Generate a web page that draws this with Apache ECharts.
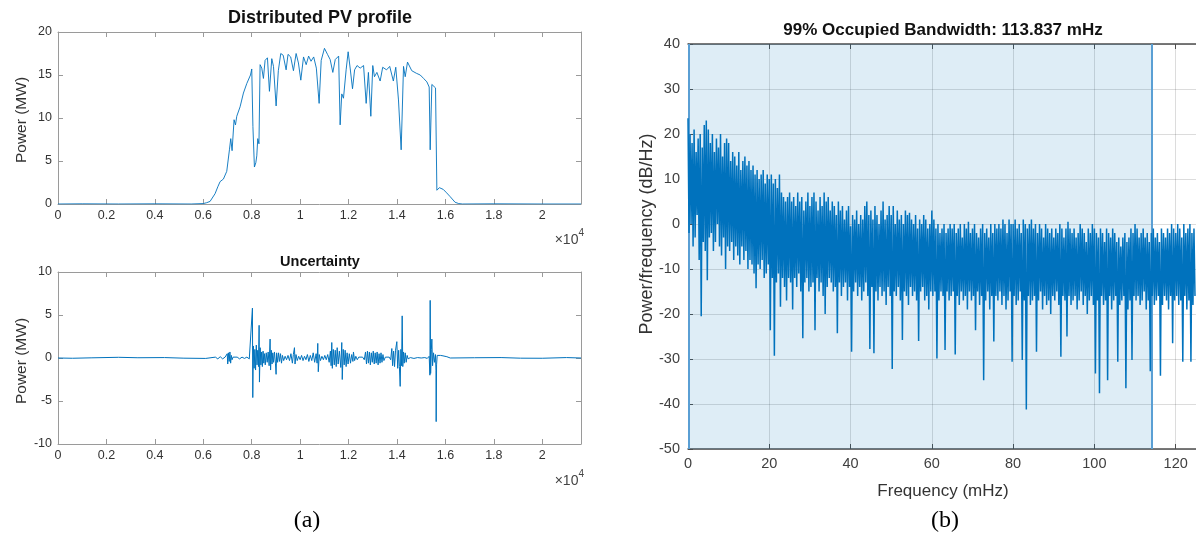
<!DOCTYPE html>
<html><head><meta charset="utf-8">
<script src="https://cdn.jsdelivr.net/npm/echarts@6/dist/echarts.min.js"></script>
<style>html,body{margin:0;padding:0;background:#fff}#c{width:1196px;height:539px}</style>
</head><body><div id="c"></div>
<script>
// ---- Panel (a) top: Distributed PV profile (time index, MW) ----
const pvTime = [0,1000,2500,4000,5500,6000,6140,6280,6487,6600,6694,6831,6970,7080,7135,7190,7272,7330,7383,7520,7658,7796,7950,8002,8050,8112,8170,8210,8250,8300,8347,8415,8484,8553,8650,8732,8829,8900,9008,9100,9200,9300,9421,9500,9610,9724,9834,9930,10028,10140,10250,10350,10450,10560,10670,10785,10870,11005,11130,11240,11350,11450,11590,11652,11720,11790,11900,11983,12070,12163,12250,12350,12480,12620,12727,12820,12920,13000,13070,13170,13305,13410,13570,13700,13780,13850,13950,14062,14173,14270,14340,14435,14610,14800,14960,15100,15235,15330,15371,15440,15510,15592,15647,15750,15910,16050,16198,16400,16550,16700,18000,20000,21600];
const pvPower = [0,0.02,0,0.02,0,0.05,0.15,0.3,1.2,2.0,2.6,2.9,3.8,6.3,7.6,6.2,9.8,9.2,10.2,11.3,12.9,14.0,15.0,15.7,9.0,4.3,4.8,5.6,7.6,7.0,16.2,15.8,14.6,16.7,17.0,13.1,16.9,16.0,11.4,15.5,17.5,17.3,15.6,17.4,17.1,15.5,17.5,16.4,14.4,17.1,16.2,17.2,16.6,17.1,15.8,11.7,16.7,18.1,17.4,16.8,15.3,16.8,17.2,9.2,12.8,12.3,15.6,17.7,15.7,13.4,15.6,16.1,15.8,16.1,11.7,15.3,10.2,16.1,14.8,15.3,14.3,15.9,15.6,16.0,16.1,14.3,15.9,12.1,6.3,16.0,14.8,16.5,15.5,15.2,15.0,14.6,14.2,13.6,6.3,13.9,14.0,13.5,1.6,1.9,1.7,1.3,0.85,0.2,0.05,0,0.02,0,0];

// ---- Panel (a) bottom: Uncertainty (time index, MW) ----
const unTime = [0,600,1400,2500,2520,3300,4400,5200,6100,6500,6600,6700,6800,6900,6950,6990,7010,7040,7070,7100,7130,7160,7190,7230,7300,7400,7500,7600,7700,7800,7900,7980,8030,8044,8070,8100,8130,8160,8190,8220,8250,8280,8306,8320,8350,8380,8410,8440,8470,8500,8530,8560,8600,8640,8680,8720,8760,8780,8810,8840,8870,8900,8940,8980,9007,9030,9070,9110,9150,9190,9230,9270,9320,9380,9440,9500,9560,9620,9680,9720,9766,9790,9830,9880,9940,10000,10060,10120,10180,10240,10300,10360,10420,10480,10540,10600,10660,10700,10729,10750,10790,10840,10900,10960,11020,11080,11140,11200,11250,11280,11307,11330,11370,11410,11450,11490,11530,11570,11620,11680,11720,11740,11780,11820,11860,11900,11940,11980,12030,12080,12130,12180,12202,12250,12300,12360,12420,12500,12580,12650,12700,12740,12780,12820,12860,12900,12940,12980,13020,13060,13100,13140,13180,13220,13260,13300,13340,13380,13420,13460,13520,13600,13680,13740,13787,13820,13860,13900,13940,13994,14030,14070,14100,14132,14160,14190,14215,14240,14270,14300,14340,14380,14420,14460,14550,14700,14850,15000,15150,15250,15330,15360,15371,15390,15420,15440,15470,15510,15550,15590,15610,15619,15635,15660,15720,15800,15900,15980,16060,16130,16200,17200,18300,19100,20000,21000,21600];
const unPower = [0,-0.03,0.02,0.08,-0.02,0.03,0.05,-0.02,-0.05,0.1,-0.1,0.15,-0.1,0.1,0,0.5,-0.7,0.6,-0.4,0.7,-0.6,0.3,-0.2,0.1,-0.1,0.1,-0.1,0.1,-0.05,0.1,-0.1,0.1,5.8,-4.6,1.4,-1.2,1.0,-1.4,1.5,-0.8,0.9,-1.0,3.8,-2.8,1.2,-0.8,0.7,-1.0,0.8,-0.6,0.5,-0.8,0.6,-0.5,0.7,-0.9,2.2,-1.4,0.9,-0.7,0.6,-0.5,0.7,-0.6,-1.9,0.6,-0.5,0.6,-0.4,0.5,-0.6,0.3,-0.3,0.2,-0.2,0.3,-0.3,0.5,-0.6,0.4,1.2,-0.7,0.4,-0.3,0.2,-0.2,0.3,-0.3,0.2,-0.2,0.4,-0.4,0.3,-0.3,0.6,-0.5,0.5,-0.6,1.7,-1.6,0.4,-0.3,0.2,-0.2,0.3,-0.2,0.4,-0.5,0.8,-0.9,1.8,-1.2,1.0,-0.8,0.9,-1.0,1.2,-0.7,0.8,-1.1,1.8,-2.5,1.0,-0.8,0.9,-1.0,0.6,-0.7,0.5,-0.6,0.4,-0.4,0.7,-0.3,0.2,-0.2,0.1,-0.1,0.1,-0.2,0.7,-0.7,0.8,-0.6,0.7,-0.8,0.6,-0.5,0.8,-0.7,0.6,-0.6,0.7,-0.8,0.5,-0.6,0.6,-0.5,0.4,-0.3,0.1,-0.1,0.1,-0.2,1.1,-0.9,0.8,-1.0,0.9,1.9,-1.2,0.9,-1.0,-3.3,1.0,-0.9,4.9,-1.0,0.7,-0.6,0.6,-0.5,0.3,-0.1,0.05,-0.05,0.05,0,0.05,-0.05,0.2,-2.0,6.7,-1.8,1.0,2.2,-0.9,0.6,-0.5,0.4,-1.5,-7.4,-0.8,0.3,0.25,0.3,0.25,0.2,0.15,0.05,0,0.03,0.05,-0.02,-0.03,0.05,0];

// ---- Panel (b): PSD (dB/Hz). Peaks at f = 0, 0.5, 1.0 ... mHz; troughs at f = 0.25, 0.75 ... mHz ----
const psdStep = 0.5;
const psdPeaks = [
23.5,20,18,21,16,19,20,17,22,23,
21,18,20,16,19,17,20,15,18,19,
18,14,16,15,13,16,12,14,15,13,
14,12,13,11,12,10,11,12,9,11,
10,11,9,10,8,11,7,6,5,6,
7,5,6,4,7,5,6,3,5,7,
4,6,7,5,3,6,4,7,5,6,
3,5,4,2,5,3,4,1,3,4,
-0.5,2,1,3,0,2,1,4,5,2,
3,1,4,2,0,3,5,1,2,4,
2,4,0,3,1,2,0,3,2,2.5,
1,0,2,-1,1,0,2,1,-1,0,
3,1,-1,0,-2,-1,0,-2,-1,0,
-1,0,-2,-1,0,-3,0,-1,0.5,-2,
-1,0,-2,-3,-1,0,-2,-1,-3,0,
-2,0,-1,0,-1,1,0,-2,1,0,
0,1,-1,0,-2,1,0,-1,0,1,
-1,0,-2,0,-1,-3,0,-1,-2,-1,
-3,-1,-2,0,-1,-3,-1,0.5,-1,-2,
-1,-3,-2,0,-1,-2,-4,-1,-2,0,
-1,-2,-3,-1,-2,-4,-1,-2,-3,-1,
-2,-4,-3,-5,-3,-2,-4,-3,-1,-2,
0,-1,-3,-2,-1,-3,-2,-4,-2,-1,
-3,-2,-4,-1,-2,-3,-1,-2,0,-1,
-2,0,-1,-3,0,-2,-1,0,-2,-1];
const psdTroughs = [
-2,0,-5,-3,2,-8,-20.5,-4,-6,-12.5,
-3,-2,-6,-4,0,-5,-7,-3,-10,-5,
-6,-4,-8,-5,-7,-9,-5,-8,-6,-10,
-8,-9,-11,-14.3,-9,-10,-8,-12,-11,-9,
-23.6,-12,-29.3,-13,-11,-18.4,-12,-14,-17,-12,
-13,-19,-12,-14,-11,-15,-25.4,-13,-12,-15,
-14,-13,-23.6,-12,-15,-13,-16,-20,-14,-12,
-13,-15,-14,-24.3,-13,-16,-14,-13,-17,-14,
-28.4,-15,-13,-16,-14,-17,-15,-13,-16,-27.8,
-14,-28.7,-15,-17,-14,-16,-15,-18,-14,-16,
-32.2,-15,-16,-14,-17,-25.8,-15,-16,-18,-14,
-16,-15,-17,-26,-15,-14,-17,-16,-19,-15,
-16,-15,-29.9,-17,-15,-16,-28,-15,-17,-16,
-15,-29,-16,-18,-15,-17,-16,-19,-15,-17,
-16,-23.6,-15,-18,-16,-34.7,-17,-15,-19,-16,
-26.1,-16,-17,-15,-18,-16,-19,-17,-15,-30.6,
-16,-18,-17,-15,-30.2,-17,-41.2,-16,-18,-17,
-16,-28.4,-17,-15,-19,-16,-18,-17,-20,-16,
-17,-15,-18,-29.5,-16,-17,-25,-16,-18,-17,
-16,-19,-17,-15,-18,-16,-20,-17,-16,-18,
-33.2,-17,-37.6,-16,-18,-17,-34.7,-16,-19,-17,
-16,-30.6,-18,-17,-16,-36.5,-19,-17,-30.2,-16,
-17,-16,-18,-17,-15,-19,-17,-32.7,-16,-18,
-17,-16,-33.7,-18,-16,-17,-19,-16,-26.5,-17,
-16,-18,-17,-30.6,-16,-19,-17,-30.6,-18,-16];
const obwStart = 0.2, obwEnd = 114.0;

const pvData = pvTime.map((t,i)=>[t,pvPower[i]]);
const unData = unTime.map((t,i)=>[t,unPower[i]]);
const psdData = [];
psdPeaks.forEach((p,k)=>{ psdData.push([k*psdStep,p]); psdData.push([k*psdStep+psdStep/2,psdTroughs[k]]); });

const FONT = '"Liberation Sans", Arial, sans-serif';
const BLUE = '#0072BD';
const axColL = '#9a9a9a', axColR = '#4d4d4d', lblCol = '#333';

function leftX(gi, pos, show){
  return {type:'value', gridIndex:gi, position:pos, min:0, max:21600, interval:2000,
    axisLine:{show:true, onZero:false, lineStyle:{color:axColL,width:1}},
    axisTick:{show:true, inside:true, length:5, lineStyle:{color:axColL}},
    axisLabel:{show:show, showMaxLabel:false, margin:5, color:lblCol, fontSize:12.5, fontFamily:FONT,
      formatter:v=> (v%2000===0 ? String(v/10000) : '')},
    splitLine:{show:false}};
}
function leftY(gi, pos, show, mn, mx){
  return {type:'value', gridIndex:gi, position:pos, min:mn, max:mx, interval:5,
    axisLine:{show:true, onZero:false, lineStyle:{color:axColL,width:1}},
    axisTick:{show:true, inside:true, length:5, lineStyle:{color:axColL}},
    axisLabel:{show:show, margin:6, color:lblCol, fontSize:12.5, fontFamily:FONT},
    splitLine:{show:false}};
}

const chart = echarts.init(document.getElementById('c'), null, {renderer:'canvas'});
chart.setOption({
  animation:false,
  backgroundColor:'#fff',
  grid:[
    {left:58, top:32, width:523, height:172},
    {left:58, top:272, width:523, height:172},
    {left:688, top:44, width:512, height:405}
  ],
  xAxis:[
    leftX(0,'bottom',true), leftX(0,'top',false),
    leftX(1,'bottom',true), leftX(1,'top',false),
    {type:'value', gridIndex:2, position:'bottom', min:0, max:125, interval:20,
      axisLine:{show:true, onZero:false, lineStyle:{color:axColR,width:1.5}},
      axisTick:{show:true, inside:true, length:5, lineStyle:{color:axColR}},
      axisLabel:{showMaxLabel:false, margin:7, color:'#404040', fontSize:14.5, fontFamily:FONT},
      splitLine:{show:true, lineStyle:{color:'rgba(38,38,38,0.16)', width:1}}},
    {type:'value', gridIndex:2, position:'top', min:0, max:125, interval:20,
      axisLine:{show:true, onZero:false, lineStyle:{color:axColR,width:1.5}},
      axisTick:{show:true, inside:true, length:5, lineStyle:{color:axColR}},
      axisLabel:{show:false}, splitLine:{show:false}}
  ],
  yAxis:[
    leftY(0,'left',true,0,20), leftY(0,'right',false,0,20),
    leftY(1,'left',true,-10,10), leftY(1,'right',false,-10,10),
    {type:'value', gridIndex:2, position:'left', min:-50, max:40, interval:10,
      axisLine:{show:true, onZero:false, lineStyle:{color:axColR,width:1}},
      axisTick:{show:true, inside:true, length:5, lineStyle:{color:axColR}},
      axisLabel:{margin:8, color:'#404040', fontSize:14.5, fontFamily:FONT},
      splitLine:{show:true, lineStyle:{color:'rgba(38,38,38,0.16)', width:1}}}
  ],
  series:[
    {type:'line', xAxisIndex:0, yAxisIndex:0, data:pvData, showSymbol:false, symbol:'none',
      lineStyle:{color:BLUE, width:0.9}, z:5},
    {type:'line', xAxisIndex:2, yAxisIndex:2, data:unData, showSymbol:false, symbol:'none',
      lineStyle:{color:BLUE, width:1}, z:5},
    {type:'line', xAxisIndex:4, yAxisIndex:4, data:psdData, showSymbol:false, symbol:'none',
      lineStyle:{color:BLUE, width:1.5}, z:5, clip:true,
      markArea:{silent:true, itemStyle:{color:'rgba(0,114,189,0.13)'},
        data:[[{xAxis:obwStart},{xAxis:obwEnd}]]},
      markLine:{silent:true, symbol:'none', label:{show:false},
        lineStyle:{color:'#5a9fd4', width:2, type:'solid'},
        data:[{xAxis:obwStart},{xAxis:obwEnd}]}}
  ],
  graphic:[
    {type:'text', style:{text:'Distributed PV profile', x:320, y:18, textAlign:'center', textVerticalAlign:'middle', font:'bold 18px '+FONT, fill:'#111'}},
    {type:'text', style:{text:'Uncertainty', x:320, y:262, textAlign:'center', textVerticalAlign:'middle', font:'bold 14.5px '+FONT, fill:'#111'}},
    {type:'text', style:{text:'99% Occupied Bandwidth: 113.837 mHz', x:943, y:30, textAlign:'center', textVerticalAlign:'middle', font:'bold 17px '+FONT, fill:'#111'}},
    {type:'text', x:22, y:120, rotation:Math.PI/2, style:{text:'Power (MW)', x:0, y:0, textAlign:'center', textVerticalAlign:'middle', font:'15.5px '+FONT, fill:'#333'}},
    {type:'text', x:22, y:361, rotation:Math.PI/2, style:{text:'Power (MW)', x:0, y:0, textAlign:'center', textVerticalAlign:'middle', font:'15.5px '+FONT, fill:'#333'}},
    {type:'text', x:647, y:234, rotation:Math.PI/2, style:{text:'Power/frequency (dB/Hz)', x:0, y:0, textAlign:'center', textVerticalAlign:'middle', font:'18px '+FONT, fill:'#333'}},
    {type:'text', style:{text:'Frequency (mHz)', x:943, y:491, textAlign:'center', textVerticalAlign:'middle', font:'17px '+FONT, fill:'#333'}},
    {type:'text', style:{text:'{a|×10}{b|4}', x:584, y:238, textAlign:'right', textVerticalAlign:'middle',
      rich:{a:{font:'14px '+FONT, fill:'#444', verticalAlign:'bottom'}, b:{font:'10px '+FONT, fill:'#444', verticalAlign:'top', padding:[0,0,9,0]}}}},
    {type:'text', style:{text:'{a|×10}{b|4}', x:584, y:479, textAlign:'right', textVerticalAlign:'middle',
      rich:{a:{font:'14px '+FONT, fill:'#444', verticalAlign:'bottom'}, b:{font:'10px '+FONT, fill:'#444', verticalAlign:'top', padding:[0,0,9,0]}}}},
    {type:'text', style:{text:'(a)', x:307, y:521, textAlign:'center', textVerticalAlign:'middle', font:'24px "Liberation Serif", "Times New Roman", serif', fill:'#000'}},
    {type:'text', style:{text:'(b)', x:945, y:521, textAlign:'center', textVerticalAlign:'middle', font:'24px "Liberation Serif", "Times New Roman", serif', fill:'#000'}}
  ]
});
</script></body></html>
